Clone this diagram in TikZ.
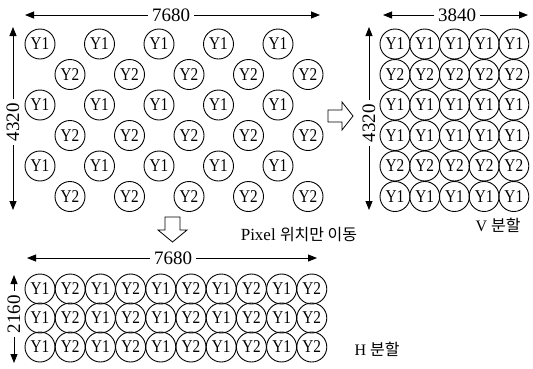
\documentclass[tikz,border=0pt]{standalone}
\usepackage{fontspec}
\setmainfont{Liberation Serif}
\newfontfamily\cellfont[FakeStretch=0.85]{Liberation Serif}
\newfontfamily\krfont{Noto Sans CJK KR}
\usetikzlibrary{arrows.meta}

\tikzset{
  cell/.style={circle, draw, line width=0.9pt, minimum size=30pt, inner sep=0pt,
               font=\cellfont\fontsize{18}{18}\selectfont},
  dim/.style={line width=0.8pt, -{Triangle[length=9pt,width=7pt]}},
  dimlabel/.style={font=\fontsize{19}{19}\selectfont, inner sep=4pt},
  hollow/.style={draw, line width=0.8pt, fill=white, line join=miter},
  note/.style={font=\fontsize{16}{16}\selectfont, inner sep=0pt},
}

\begin{document}
\begin{tikzpicture}[x=1pt, y=-1pt]
  \useasboundingbox (0,0) rectangle (533,368);

  % ---- original 7680 x 4320 frame (staggered Y1 / Y2 samples) ----
  \foreach \r/\lab/\off in {0/Y1/0, 1/Y2/30, 2/Y1/0, 3/Y2/30, 4/Y1/0, 5/Y2/30} {
    \foreach \c in {0,...,4} {
      \node[cell] (L-\r-\c) at ({40+\off+59.5*\c},{44+30.5*\r}) {\lab};
    }
  }
  \node[dimlabel] (lw) at (171,15) {7680};
  \coordinate (lwl) at (25,15);
  \coordinate (lwr) at (320,15);
  \draw[dim] (lw.west) -- (lwl);
  \draw[dim] (lw.east) -- (lwr);

  \node[dimlabel, rotate=90] (lh) at (13,122) {4320};
  \coordinate (lht) at (13,27);
  \coordinate (lhb) at (13,210);
  \draw[dim] (lh.east) -- (lht);
  \draw[dim] (lh.west) -- (lhb);

  % ---- V split: 3840 x 4320 ----
  \foreach \r/\lab in {0/Y1, 1/Y2, 2/Y1, 3/Y1, 4/Y2, 5/Y1} {
    \foreach \c in {0,...,4} {
      \node[cell] (V-\r-\c) at ({395+29.7*\c},{44+30.5*\r}) {\lab};
    }
  }
  \node[dimlabel] (vw) at (457,15) {3840};
  \coordinate (vwl) at (383,15);
  \coordinate (vwr) at (528,15);
  \draw[dim] (vw.west) -- (vwl);
  \draw[dim] (vw.east) -- (vwr);

  \node[dimlabel, rotate=90] (vh) at (369,123) {4320};
  \coordinate (vht) at (369,27);
  \coordinate (vhb) at (369,210);
  \draw[dim] (vh.east) -- (vht);
  \draw[dim] (vh.west) -- (vhb);

  \node[note] (vnote) at (498,225) {V {\krfont 분할}};

  % ---- H split: 7680 x 2160 ----
  \foreach \r in {0,1,2} {
    \foreach \c/\lab in {0/Y1,1/Y2,2/Y1,3/Y2,4/Y1,5/Y2,6/Y1,7/Y2,8/Y1,9/Y2} {
      \node[cell] (H-\r-\c) at ({40+30.2*\c},{289+29*\r}) {\lab};
    }
  }
  \node[dimlabel] (hw) at (173,258) {7680};
  \coordinate (hwl) at (27,258);
  \coordinate (hwr) at (317,258);
  \draw[dim] (hw.west) -- (hwl);
  \draw[dim] (hw.east) -- (hwr);

  \node[dimlabel, rotate=90] (hh) at (14,314) {2160};
  \coordinate (hht) at (14,275);
  \coordinate (hhb) at (14,363);
  \draw[dim] (hh.east) -- (hht);
  \draw[dim] (hh.west) -- (hhb);

  \node[note] (hnote) at (377,349) {H {\krfont 분할}};

  % ---- hollow block arrows ----
  \draw[hollow] (328,110) -- (342,110) -- (342,102) -- (353,116)
                -- (342,130) -- (342,122) -- (328,122) -- cycle;
  \draw[hollow] (165,217) -- (180,217) -- (180,230) -- (187,230)
                -- (172.5,242) -- (158,230) -- (165,230) -- cycle;

  \node[note] (move) at (299,235) {\fontsize{17}{17}\selectfont Pixel \krfont\fontsize{16}{16}\selectfont 위치만 이동};
\end{tikzpicture}
\end{document}
